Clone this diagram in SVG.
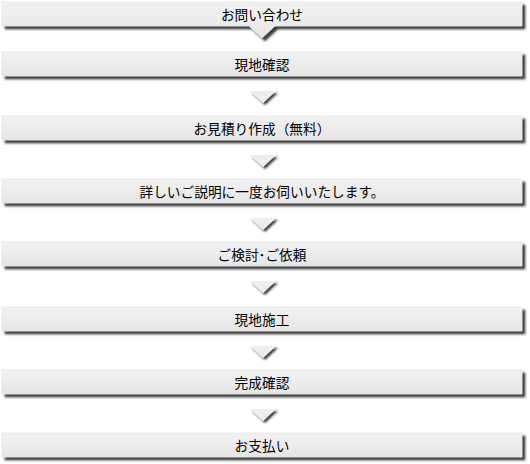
<svg xmlns="http://www.w3.org/2000/svg" width="530" height="464" viewBox="0 0 530 464">
<defs>
<linearGradient id="g" x1="0" y1="0" x2="0" y2="1">
<stop offset="0" stop-color="#f2f2f2"/>
<stop offset="1" stop-color="#e6e6e6"/>
</linearGradient>
<filter id="sh" x="-5%" y="-30%" width="110%" height="180%">
<feDropShadow dx="3" dy="3" stdDeviation="0.9" flood-color="#222" flood-opacity="0.9"/>
</filter>
<filter id="csh" x="-30%" y="-30%" width="180%" height="180%">
<feDropShadow dx="2" dy="2" stdDeviation="1" flood-color="#222" flood-opacity="0.9"/>
</filter>
</defs>
<style>
.box{fill:url(#g);stroke:#e0e0e0;stroke-width:0.6;filter:url(#sh)}
.chev{fill:#eeeeee;filter:url(#csh)}
.t{font-family:"Noto Sans CJK JP","Noto Sans",sans-serif;font-size:13.7px;fill:#000;text-anchor:middle;dominant-baseline:central}
</style>
<rect width="530" height="464" fill="#fff"/>
<g id="connectors">
<polygon class="chev" points="250,91 276,91 263,103"/>
<polygon class="chev" points="250,155 276,155 263,167"/>
<polygon class="chev" points="250,218 276,218 263,230"/>
<polygon class="chev" points="250,281 276,281 263,293"/>
<polygon class="chev" points="250,346 276,346 263,358"/>
<polygon class="chev" points="250,409 276,409 263,421"/>
</g>
<g id="n1">
<path class="box" d="M2,2 H522 V26 H275 L262,38 L249,26 H2 Z"/>
<text class="t" x="262" y="14">お問い合わせ</text>
</g>
<g id="n2">
<rect class="box" x="2" y="52" width="520" height="24"/>
<text class="t" x="262" y="64">現地確認</text>
</g>
<g id="n3">
<rect class="box" x="2" y="116" width="520" height="24"/>
<text class="t" x="262" y="128">お見積り作成（無料）</text>
</g>
<g id="n4">
<rect class="box" x="2" y="179" width="520" height="24"/>
<text class="t" x="262" y="191">詳しいご説明に一度お伺いいたします。</text>
</g>
<g id="n5">
<rect class="box" x="2" y="242" width="520" height="24"/>
<text class="t" x="262" y="254">ご検討･ご依頼</text>
</g>
<g id="n6">
<rect class="box" x="2" y="307" width="520" height="24"/>
<text class="t" x="262" y="319">現地施工</text>
</g>
<g id="n7">
<rect class="box" x="2" y="370" width="520" height="24"/>
<text class="t" x="262" y="382">完成確認</text>
</g>
<g id="n8">
<rect class="box" x="2" y="433" width="520" height="24"/>
<text class="t" x="262" y="445">お支払い</text>
</g>
</svg>
